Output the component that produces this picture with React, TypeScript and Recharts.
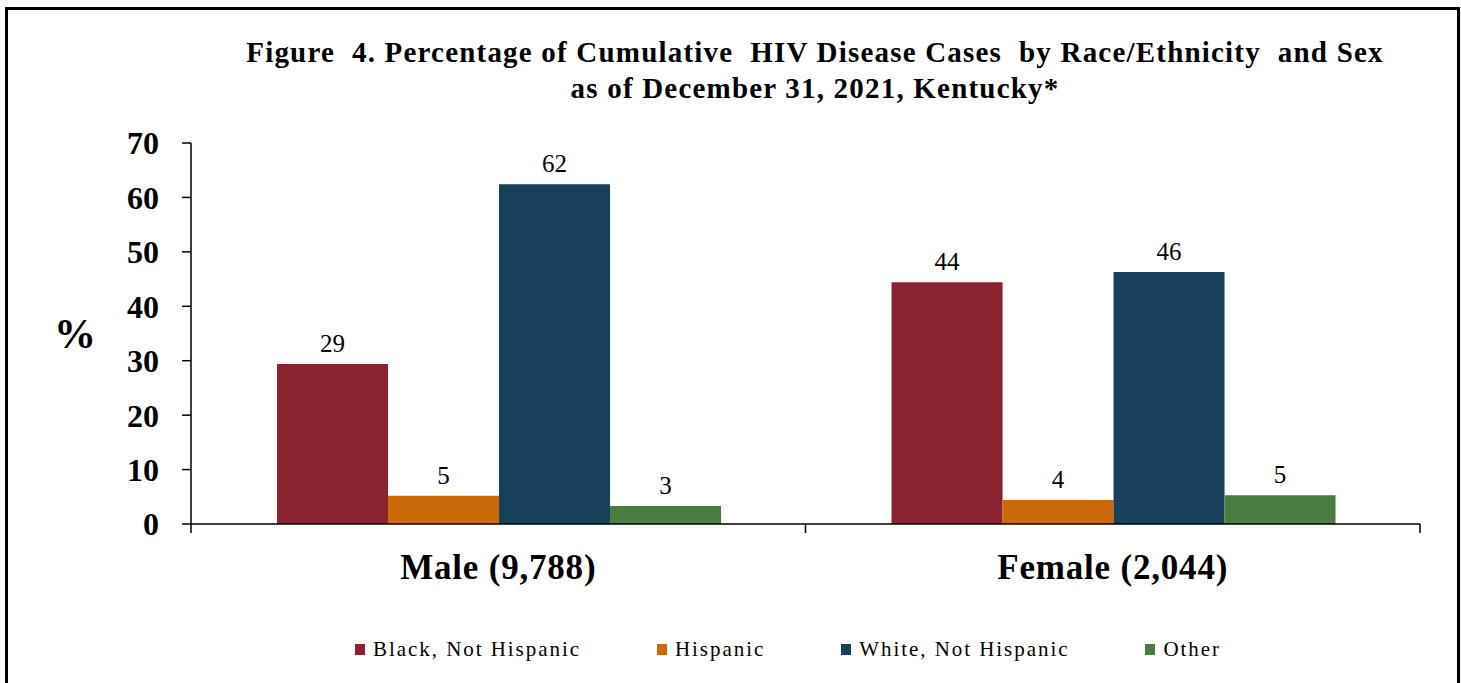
import { BarChart, Bar, XAxis, YAxis, LabelList } from 'recharts';

const categories = ['Male (9,788)', 'Female (2,044)'];
const seriesNames = ['Black, Not Hispanic', 'Hispanic', 'White, Not Hispanic', 'Other'];
const blackVals = [29.4, 44.4];
const hispanicVals = [5.2, 4.4];
const whiteVals = [62.4, 46.3];
const otherVals = [3.3, 5.3];
const yTicks = [0, 10, 20, 30, 40, 50, 60, 70];

const colors = ['#8A2330', '#CC6A0A', '#17405A', '#4A7C3F'];
const keys = ['black', 'hispanic', 'white', 'other'];

const data = categories.map((name, i) => ({
  name,
  black: blackVals[i],
  hispanic: hispanicVals[i],
  white: whiteVals[i],
  other: otherVals[i],
}));

const serif = '"Liberation Serif", "Times New Roman", serif';
const LABEL_GAP = 30;

// category label plus Excel-style tick marks on the category boundaries
function CatTick(props: any) {
  const { x, y, payload, index, visibleTicksCount } = props;
  const off = payload && payload.offset != null ? payload.offset : 307;
  const axisY = y - LABEL_GAP;
  const last = index === visibleTicksCount - 1;
  return (
    <g>
      <line x1={x - off} x2={x - off} y1={axisY} y2={axisY + 9} stroke="#000" strokeWidth={1.5} />
      {last && (
        <line x1={x + off} x2={x + off} y1={axisY} y2={axisY + 9} stroke="#000" strokeWidth={1.5} />
      )}
      <text
        x={x}
        y={y}
        dy="0.71em"
        textAnchor="middle"
        fill="#000"
        fontSize={35}
        fontWeight="bold"
        fontFamily={serif}
        letterSpacing={0.8}
      >
        {payload.value}
      </text>
    </g>
  );
}

export default function App() {
  return (
    <div
      style={{
        position: 'absolute',
        left: 0,
        top: 0,
        width: 1461,
        height: 683,
        overflow: 'hidden',
        background: '#fff',
        fontFamily: serif,
      }}
    >
      <div
        style={{
          position: 'absolute',
          left: 5,
          top: 7,
          width: 1449,
          height: 720,
          border: '3px solid #000',
        }}
      />
      <div
        style={{
          position: 'absolute',
          left: 215,
          width: 1200,
          top: 34,
          textAlign: 'center',
          fontWeight: 'bold',
          fontSize: 29,
          letterSpacing: 1.2,
          lineHeight: '36px',
          whiteSpace: 'pre',
          color: '#000',
          fontFamily: serif,
        }}
      >
        {'Figure  4. Percentage of Cumulative  HIV Disease Cases  by Race/Ethnicity  and Sex'}
        <br />
        {'as of December 31, 2021, Kentucky*'}
      </div>
      <div style={{ position: 'absolute', left: 0, top: 0 }}>
        <BarChart
          width={1461}
          height={683}
          data={data}
          margin={{ top: 143, right: 41, left: 0, bottom: 79 }}
          barCategoryGap="14%"
          barGap={0}
        >
          <XAxis
            dataKey="name"
            height={80}
            axisLine={{ stroke: '#000', strokeWidth: 1.5 }}
            tickLine={false}
            tickSize={0}
            tickMargin={LABEL_GAP}
            tick={<CatTick />}
          />
          <YAxis
            domain={[0, 70]}
            ticks={yTicks}
            width={191}
            tickSize={9}
            tickMargin={23}
            axisLine={{ stroke: '#000', strokeWidth: 1.5 }}
            tickLine={{ stroke: '#000', strokeWidth: 1.5 }}
            tick={{ fill: '#000', fontSize: 32, fontWeight: 'bold', fontFamily: serif }}
            label={{
              value: '%',
              position: 'insideLeft',
              offset: 54,
              fill: '#000',
              fontSize: 42,
              fontWeight: 'bold',
              fontFamily: serif,
            }}
          />
          {keys.map((k, i) => (
            <Bar
              key={k}
              dataKey={k}
              name={seriesNames[i]}
              fill={colors[i]}
              isAnimationActive={false}
            >
              <LabelList
                dataKey={k}
                position="top"
                offset={12}
                formatter={(v: number) => Math.round(v)}
                fill="#000"
                fontSize={25}
                fontFamily={serif}
              />
            </Bar>
          ))}
        </BarChart>
      </div>
      <div
        style={{
          position: 'absolute',
          left: 0,
          top: 636,
          paddingLeft: 355,
          display: 'flex',
          gap: 76,
          fontSize: 21,
          letterSpacing: 1.95,
          color: '#000',
          lineHeight: '26px',
          fontFamily: serif,
        }}
      >
        {seriesNames.map((s, i) => (
          <div key={s} style={{ display: 'flex', alignItems: 'center', whiteSpace: 'nowrap' }}>
            <span
              style={{
                display: 'inline-block',
                width: 10,
                height: 11,
                background: colors[i],
                marginRight: 8,
              }}
            />
            {s}
          </div>
        ))}
      </div>
    </div>
  );
}
